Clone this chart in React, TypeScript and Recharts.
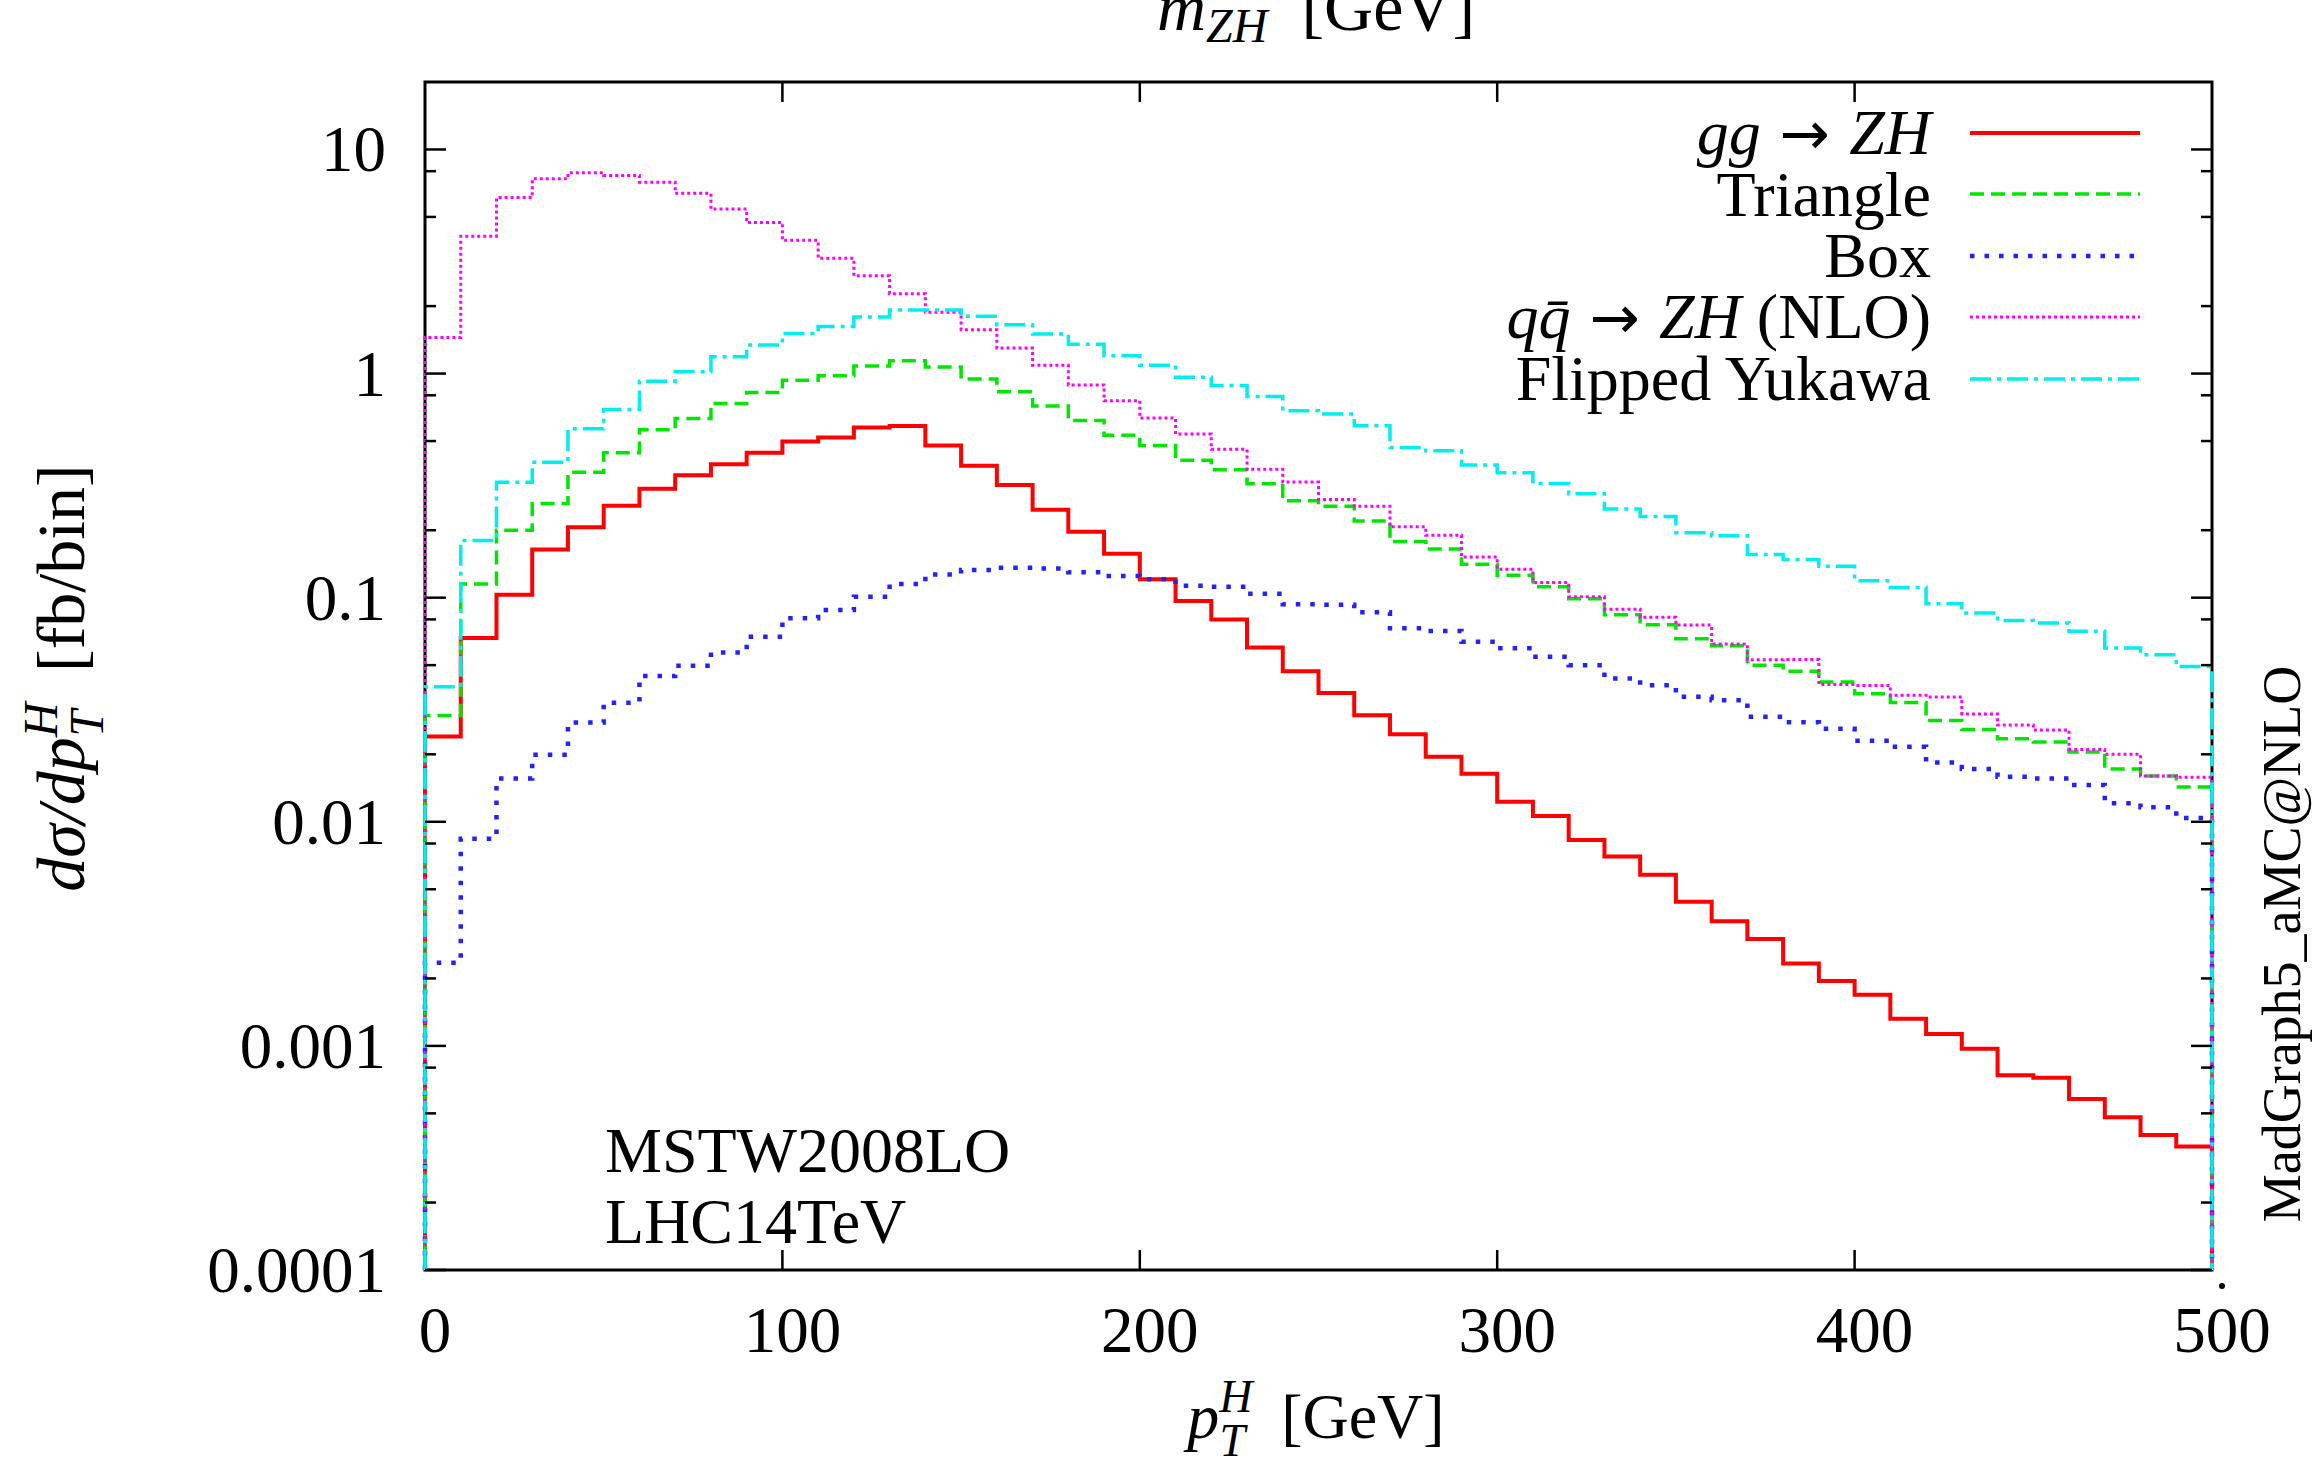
import React from "react";
import { LineChart, Line, XAxis, YAxis, Legend, ReferenceArea } from "recharts";

// Higgs transverse momentum spectra in ZH production, 10 GeV bins
const ptBins = [
  0, 10, 20, 30, 40, 50, 60, 70, 80, 90,
  100, 110, 120, 130, 140, 150, 160, 170, 180, 190,
  200, 210, 220, 230, 240, 250, 260, 270, 280, 290,
  300, 310, 320, 330, 340, 350, 360, 370, 380, 390,
  400, 410, 420, 430, 440, 450, 460, 470, 480, 490,
];
const PT_MAX = 500;

const ggZH = [
  0.024, 0.066, 0.103, 0.164, 0.206, 0.257, 0.306, 0.352, 0.394, 0.443,
  0.497, 0.518, 0.575, 0.583, 0.478, 0.388, 0.318, 0.247, 0.197, 0.157,
  0.121, 0.0966, 0.08, 0.06, 0.047, 0.0376, 0.0299, 0.0246, 0.0195, 0.0164,
  0.0123, 0.0106, 0.0083, 0.007, 0.0058, 0.0044, 0.0036, 0.003, 0.00233, 0.00195,
  0.00169, 0.00132, 0.00113, 0.00097, 0.00074, 0.00072, 0.00058, 0.00048, 0.0004, 0.000356,
];

const triangle = [
  0.0298, 0.115, 0.2, 0.263, 0.363, 0.443, 0.562, 0.631, 0.735, 0.824,
  0.933, 0.977, 1.08, 1.14, 1.07, 0.946, 0.83, 0.716, 0.618, 0.53,
  0.477, 0.41, 0.372, 0.322, 0.271, 0.256, 0.22, 0.178, 0.165, 0.141,
  0.126, 0.112, 0.099, 0.084, 0.0757, 0.0655, 0.061, 0.05, 0.047, 0.042,
  0.0373, 0.0341, 0.0283, 0.0258, 0.0235, 0.0227, 0.0205, 0.0172, 0.016, 0.0143,
];

const box = [
  0.00235, 0.0084, 0.0156, 0.0199, 0.0277, 0.034, 0.0447, 0.0497, 0.057, 0.067,
  0.081, 0.088, 0.101, 0.115, 0.127, 0.133, 0.136, 0.135, 0.13, 0.125,
  0.121, 0.113, 0.112, 0.104, 0.0935, 0.093, 0.086, 0.073, 0.071, 0.0636,
  0.0594, 0.0545, 0.05, 0.0436, 0.0407, 0.0361, 0.0349, 0.0294, 0.0278, 0.026,
  0.023, 0.0216, 0.0184, 0.0172, 0.0159, 0.0156, 0.0146, 0.0121, 0.0116, 0.0104,
];

const qqZH = [
  1.45, 4.1, 6.1, 7.4, 7.87, 7.66, 7.14, 6.37, 5.42, 4.72,
  3.93, 3.27, 2.73, 2.27, 1.88, 1.57, 1.3, 1.09, 0.89, 0.757,
  0.633, 0.537, 0.459, 0.374, 0.328, 0.274, 0.256, 0.207, 0.19, 0.152,
  0.134, 0.117, 0.101, 0.0889, 0.0818, 0.0755, 0.0622, 0.0528, 0.053, 0.041,
  0.0406, 0.0367, 0.036, 0.0303, 0.027, 0.0257, 0.021, 0.02, 0.016, 0.0158,
];

const flippedYukawa = [
  0.04, 0.18, 0.327, 0.402, 0.567, 0.692, 0.925, 1.02, 1.19, 1.34,
  1.51, 1.62, 1.79, 1.92, 1.92, 1.8, 1.65, 1.5, 1.35, 1.2,
  1.09, 0.963, 0.884, 0.79, 0.683, 0.66, 0.585, 0.468, 0.452, 0.391,
  0.361, 0.323, 0.291, 0.249, 0.23, 0.195, 0.189, 0.156, 0.148, 0.138,
  0.119, 0.111, 0.094, 0.0855, 0.079, 0.077, 0.0708, 0.0596, 0.0556, 0.0493,
];

const xTicks = [0, 100, 200, 300, 400, 500];
const yMajorTicks = [0.0001, 0.001, 0.01, 0.1, 1, 10];
const yMinorSteps = [2, 5, 8];
const Y_MIN = 0.0001;
const Y_MAX = 20;

const FONT = '"Liberation Serif", "DejaVu Serif", serif';
const ARROW_FONT = '"DejaVu Sans", sans-serif';

// plot frame in page pixels
const PLOT_LEFT = 425;
const PLOT_TOP = 82;
const PLOT_RIGHT = 2212;
const PLOT_BOTTOM = 1270;
const PLOT_W = PLOT_RIGHT - PLOT_LEFT;
const PLOT_H = PLOT_BOTTOM - PLOT_TOP;

const Arrow = () => <span style={{ fontFamily: ARROW_FONT, fontSize: 60 }}> → </span>;

const series = [
  {
    key: "ggZH",
    values: ggZH,
    color: "#ff0000",
    width: 4,
    dash: undefined as string | undefined,
    label: (
      <>
        <i>gg</i>
        <Arrow />
        <i>ZH</i>
      </>
    ),
  },
  { key: "triangle", values: triangle, color: "#00e600", width: 3.5, dash: "14 7", label: <>Triangle</> },
  { key: "box", values: box, color: "#2222ff", width: 4.5, dash: "4.5 10", label: <>Box</> },
  {
    key: "qqZH",
    values: qqZH,
    color: "#ff00ff",
    width: 3,
    dash: "3 3",
    label: (
      <>
        <i>{"qq\u0304"}</i>
        <Arrow />
        <i>ZH</i> (NLO)
      </>
    ),
  },
  {
    key: "flipped",
    values: flippedYukawa,
    color: "#00eeee",
    width: 3.5,
    dash: "21 6 4 6",
    label: <>Flipped Yukawa</>,
  },
];

// histogram outline: rise from the axis floor, one step per bin, drop back at the end
const tableRows = (() => {
  const row = (x: number, pick: (s: (typeof series)[number]) => number) => {
    const r: Record<string, number> = { x };
    series.forEach((s) => (r[s.key] = pick(s)));
    return r;
  };
  const rows = [row(ptBins[0], () => Y_MIN)];
  ptBins.forEach((x, i) => rows.push(row(x, (s) => s.values[i])));
  rows.push(row(PT_MAX, (s) => s.values[s.values.length - 1]));
  rows.push(row(PT_MAX, () => Y_MIN));
  return rows;
})();

const yTicks = yMajorTicks
  .flatMap((m) => [m, ...yMinorSteps.map((k) => k * m)])
  .filter((v) => v < Y_MAX);

const YTick = (props: any) => {
  const { x, y, payload } = props;
  const v = payload.value;
  const major = yMajorTicks.includes(v);
  const len = major ? 21 : 11;
  return (
    <g>
      <line x1={x} x2={x + len} y1={y} y2={y} stroke="#000" strokeWidth={2.5} />
      <line x1={x + PLOT_W - len} x2={x + PLOT_W} y1={y} y2={y} stroke="#000" strokeWidth={2.5} />
      {major && (
        <text x={x - 39} y={y + 22} textAnchor="end" fontFamily={FONT} fontSize={65} fill="#000">
          {String(v)}
        </text>
      )}
    </g>
  );
};

const XTick = (props: any) => {
  const { x, y, payload } = props;
  const v = payload.value;
  const inner = v > xTicks[0] && v < PT_MAX;
  return (
    <g>
      {inner && <line x1={x} x2={x} y1={y} y2={y - 20} stroke="#000" strokeWidth={2.5} />}
      {inner && <line x1={x} x2={x} y1={y - PLOT_H} y2={y - PLOT_H + 20} stroke="#000" strokeWidth={2.5} />}
      <text x={x + 10} y={y + 82} textAnchor="middle" fontFamily={FONT} fontSize={65} fill="#000">
        {v}
      </text>
    </g>
  );
};

const renderLegend = () => (
  <div style={{ fontFamily: FONT, fontSize: 64, color: "#000" }}>
    {series.map((s) => (
      <div
        key={s.key}
        style={{ display: "flex", justifyContent: "flex-end", alignItems: "center", height: 61.5 }}
      >
        <span style={{ whiteSpace: "nowrap", lineHeight: "61.5px" }}>{s.label}</span>
        <svg width={170} height={20} style={{ marginLeft: 39, flex: "none" }}>
          <line
            x1={0}
            x2={170}
            y1={10}
            y2={10}
            stroke={s.color}
            strokeWidth={s.width}
            strokeDasharray={s.dash}
          />
        </svg>
      </div>
    ))}
  </div>
);

export default function App() {
  return (
    <div
      style={{
        position: "absolute",
        left: 0,
        top: 0,
        width: 2312,
        height: 1463,
        background: "#fff",
        overflow: "hidden",
      }}
    >
      <LineChart
        width={2312}
        height={1463}
        data={tableRows}
        margin={{ top: PLOT_TOP, right: 2312 - PLOT_RIGHT, bottom: 1463 - PLOT_BOTTOM - 100, left: PLOT_LEFT - 120 }}
      >
        <XAxis
          type="number"
          dataKey="x"
          domain={[0, PT_MAX]}
          ticks={xTicks}
          interval={0}
          height={100}
          axisLine={false}
          tickLine={false}
          tickSize={0}
          tickMargin={0}
          tick={<XTick />}
        />
        <YAxis
          type="number"
          scale="log"
          domain={[Y_MIN, Y_MAX]}
          allowDataOverflow
          ticks={yTicks}
          interval={0}
          width={120}
          axisLine={false}
          tickLine={false}
          tickSize={0}
          tickMargin={0}
          tick={<YTick />}
        />
        <ReferenceArea x1={0} x2={PT_MAX} y1={Y_MIN} y2={Y_MAX} fill="none" stroke="#000" strokeWidth={3} />
        {series.map((s) => (
          <Line
            key={s.key}
            dataKey={s.key}
            type="stepAfter"
            stroke={s.color}
            strokeWidth={s.width}
            strokeDasharray={s.dash}
            dot={false}
            activeDot={false}
            isAnimationActive={false}
          />
        ))}
        <Legend
          layout="horizontal"
          verticalAlign="middle"
          align="center"
          content={renderLegend}
          wrapperStyle={{ left: 1100, top: 102, width: 1040 }}
        />
      </LineChart>

      <svg
        width={2312}
        height={1463}
        style={{ position: "absolute", left: 0, top: 0, pointerEvents: "none" }}
        fontFamily={FONT}
        fill="#000"
      >
        {/* axis title of the panel above, cut by the page edge */}
        <text x={1316} y={30} textAnchor="middle" fontSize={68}>
          <tspan fontStyle="italic">m</tspan>
          <tspan fontStyle="italic" fontSize={48} dy={12}>ZH</tspan>
          <tspan dy={-12} dx={34}>[GeV]</tspan>
        </text>

        <text x={1316} y={1438} textAnchor="middle" fontSize={64}>
          <tspan fontStyle="italic">p</tspan>
          <tspan fontStyle="italic" fontSize={46} dy={-26}>H</tspan>
          <tspan fontStyle="italic" fontSize={46} dx={-33} dy={44}>T</tspan>
          <tspan dx={36} dy={-18}>[GeV]</tspan>
        </text>

        <text transform="translate(84, 678) rotate(-90)" textAnchor="middle" fontSize={68}>
          <tspan fontStyle="italic">dσ/dp</tspan>
          <tspan fontStyle="italic" fontSize={48} dy={-27}>H</tspan>
          <tspan fontStyle="italic" fontSize={48} dx={-34} dy={46}>T</tspan>
          <tspan dx={38} dy={-19}>[fb/bin]</tspan>
        </text>

        <text x={605} y={1172} fontSize={64}>MSTW2008LO</text>
        <text x={605} y={1243} fontSize={64}>LHC14TeV</text>

        <text transform="translate(2300, 944) rotate(-90)" textAnchor="middle" fontSize={54}>
          MadGraph5_aMC@NLO
        </text>

        <circle cx={2222} cy={1286} r={3} fill="#000" />
      </svg>
    </div>
  );
}
